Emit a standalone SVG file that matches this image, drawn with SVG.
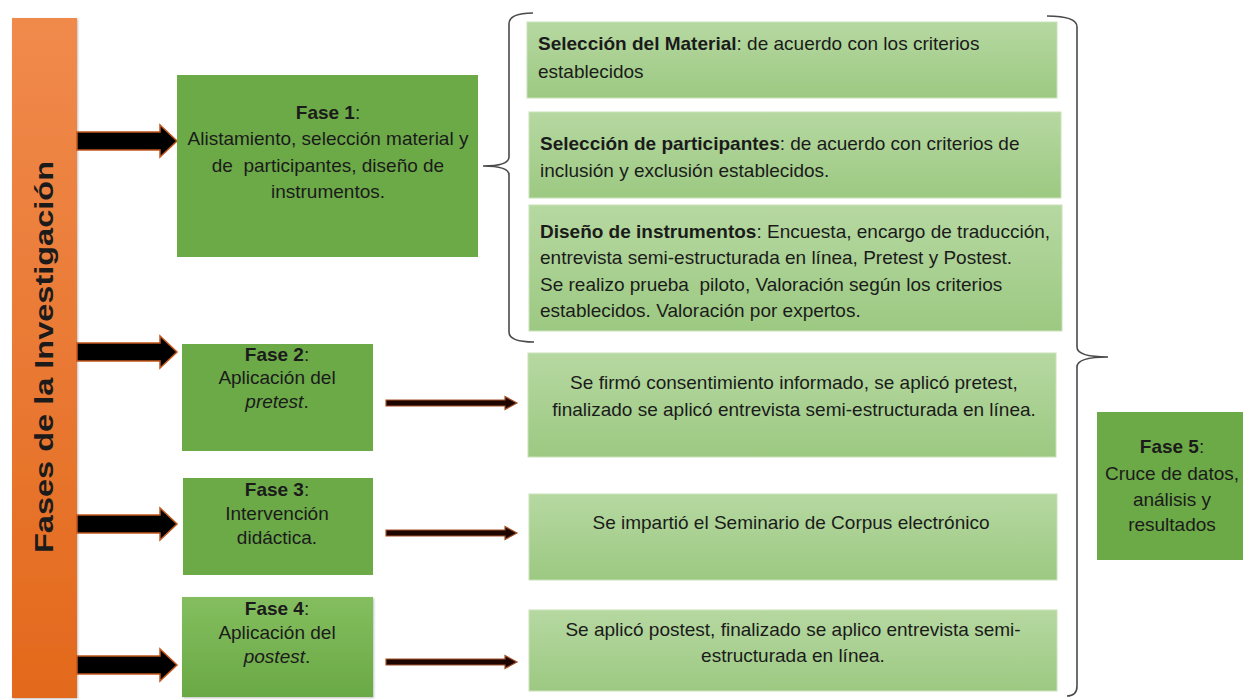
<svg xmlns="http://www.w3.org/2000/svg" width="1243" height="700" viewBox="0 0 1243 700">
<defs>
<linearGradient id="orange" x1="0" y1="0" x2="0" y2="1">
<stop offset="0" stop-color="#F08A4C"/>
<stop offset="1" stop-color="#E3691C"/>
</linearGradient>
<linearGradient id="light" x1="0" y1="0" x2="0" y2="1">
<stop offset="0" stop-color="#B6D8A1"/>
<stop offset="1" stop-color="#9CC982"/>
</linearGradient>
<linearGradient id="f4" x1="0" y1="0" x2="0" y2="1">
<stop offset="0" stop-color="#84BE5F"/>
<stop offset="1" stop-color="#6AA945"/>
</linearGradient>
<filter id="sh" x="-10%" y="-10%" width="120%" height="120%">
<feDropShadow dx="1" dy="1" stdDeviation="1.2" flood-color="#000" flood-opacity="0.25"/>
</filter>
</defs>
<style>
text{font-family:"Liberation Sans",Arial,sans-serif;font-size:19px;fill:#1b1b1b}
.c{text-anchor:middle}
.b{font-weight:bold}
.dark{fill:#6BAA47}
.lite{fill:url(#light);stroke:#C9E2B8;stroke-width:1}
.big{fill:#000;stroke:#C0561A;stroke-width:1.5}
.small{fill:#1E0600;stroke:#A4502A;stroke-width:1.2}
.brace{fill:none;stroke:#4a4a4a;stroke-width:1.6}
</style>
<rect width="1243" height="700" fill="#fff"/>

<g id="bar">
<rect x="12" y="18" width="65" height="680" fill="url(#orange)" filter="url(#sh)"/>
<text class="b c" transform="translate(53,357) rotate(-90)" style="font-size:26px" textLength="392" lengthAdjust="spacingAndGlyphs">Fases de la Investigación</text>
</g>

<g id="connectors">
<path class="big" d="M77,132 H160 V125 L177,141 L160,157 V150 H77 Z"/>
<path class="big" d="M77,343 H160 V336 L177,352 L160,368 V361 H77 Z"/>
<path class="big" d="M77,515 H160 V508 L177,524 L160,540 V533 H77 Z"/>
<path class="big" d="M77,656 H160 V649 L177,665 L160,681 V674 H77 Z"/>
<path class="small" d="M386,400 H505 V396.5 L517,403 L505,409.5 V406 H386 Z"/>
<path class="small" d="M386,530 H505 V526.5 L517,533 L505,539.5 V536 H386 Z"/>
<path class="small" d="M386,659 H505 V655.5 L517,662 L505,668.5 V665 H386 Z"/>
<path class="brace" d="M533,13 Q509,13 509,24 V157 Q509,166 483,166 Q509,166 509,175 V332 Q509,342 534,342"/>
<path class="brace" d="M1047,16 Q1077,16 1077,27 V347 Q1077,357 1108,357 Q1077,357 1077,367 V686 Q1077,696 1067,696"/>
</g>

<g id="fase1">
<rect class="dark" x="177" y="75" width="301" height="182"/>
<text class="c" x="328" y="119"><tspan class="b">Fase 1</tspan>:</text>
<text class="c" x="328" y="145">Alistamiento, selección material y</text>
<text class="c" x="328" y="172" xml:space="preserve">de  participantes, diseño de</text>
<text class="c" x="328" y="198">instrumentos.</text>
</g>

<g id="fase2">
<rect class="dark" x="182" y="344" width="191" height="107"/>
<text class="c" x="277" y="361"><tspan class="b">Fase 2</tspan>:</text>
<text class="c" x="277" y="384">Aplicación del</text>
<text class="c" x="277" y="408" font-style="italic">pretest<tspan font-style="normal">.</tspan></text>
</g>

<g id="fase3">
<rect class="dark" x="183" y="478" width="190" height="97"/>
<text class="c" x="277" y="496"><tspan class="b">Fase 3</tspan>:</text>
<text class="c" x="277" y="520">Intervención</text>
<text class="c" x="277" y="544">didáctica.</text>
</g>

<g id="fase4">
<rect x="182" y="597" width="191" height="100" fill="url(#f4)" filter="url(#sh)"/>
<text class="c" x="277" y="615"><tspan class="b">Fase 4</tspan>:</text>
<text class="c" x="277" y="639">Aplicación del</text>
<text class="c" x="277" y="663" font-style="italic">postest<tspan font-style="normal">.</tspan></text>
</g>

<g id="fase5">
<rect class="dark" x="1097" y="412" width="146" height="148"/>
<text class="c" x="1172" y="453"><tspan class="b">Fase 5</tspan>:</text>
<text class="c" x="1172" y="480">Cruce de datos,</text>
<text class="c" x="1172" y="506">análisis y</text>
<text class="c" x="1172" y="531">resultados</text>
</g>

<g id="material">
<rect class="lite" x="527" y="22" width="530" height="76"/>
<text x="538" y="50"><tspan class="b">Selección del Material</tspan>: de acuerdo con los criterios</text>
<text x="538" y="78">establecidos</text>
</g>

<g id="participantes">
<rect class="lite" x="529" y="112" width="532" height="86"/>
<text x="540" y="150"><tspan class="b">Selección de participantes</tspan>: de acuerdo con criterios de</text>
<text x="540" y="177">inclusión y exclusión establecidos.</text>
</g>

<g id="instrumentos">
<rect class="lite" x="529" y="205" width="533" height="126"/>
<text x="540" y="238"><tspan class="b">Diseño de instrumentos</tspan>: Encuesta, encargo de traducción,</text>
<text x="540" y="264">entrevista semi-estructurada en línea, Pretest y Postest.</text>
<text x="540" y="291" xml:space="preserve">Se realizo prueba  piloto, Valoración según los criterios</text>
<text x="540" y="317">establecidos. Valoración por expertos.</text>
</g>

<g id="pretest">
<rect class="lite" x="528" y="353" width="528" height="104"/>
<text class="c" x="794" y="389">Se firmó consentimiento informado, se aplicó pretest,</text>
<text class="c" x="794" y="416">finalizado se aplicó entrevista semi-estructurada en línea.</text>
</g>

<g id="seminario">
<rect class="lite" x="529" y="494" width="528" height="86"/>
<text class="c" x="791" y="529">Se impartió el Seminario de Corpus electrónico</text>
</g>

<g id="postest">
<rect class="lite" x="529" y="610" width="528" height="81"/>
<text class="c" x="793" y="636">Se aplicó postest, finalizado se aplico entrevista semi-</text>
<text class="c" x="793" y="662">estructurada en línea.</text>
</g>
</svg>
